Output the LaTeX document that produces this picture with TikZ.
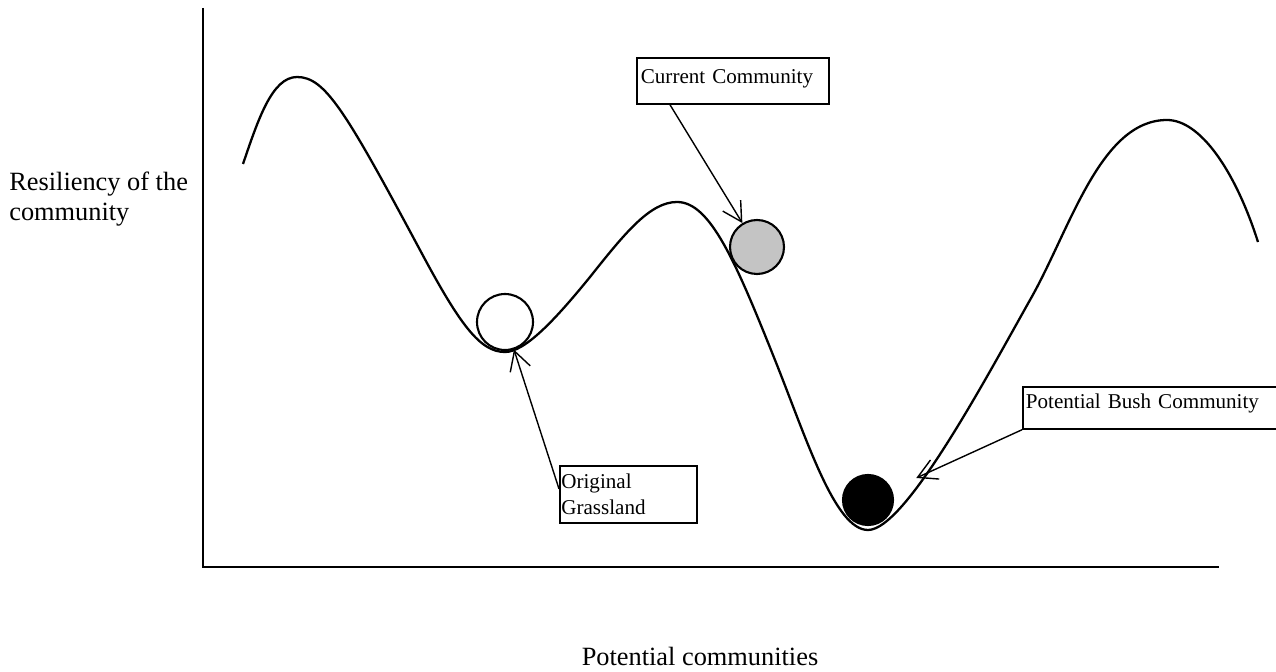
\documentclass[tikz,border=0pt]{standalone}
\usepackage{fontspec}
\setmainfont{Liberation Serif}
\usepackage{tikz}
\usetikzlibrary{arrows.meta, positioning, calc}
\definecolor{ballgray}{RGB}{196,196,196}
\definecolor{inkdark}{RGB}{0,0,0}
\tikzset{
  labelbox/.style={rectangle, draw=inkdark, fill=white, line width=1pt,
    anchor=north west, align=left, inner xsep=0.08cm, inner ysep=0.1cm,
    font=\fontsize{12}{14.4}\selectfont},
  ball/.style={circle, draw=inkdark, line width=1.2pt, inner sep=0pt},
  pointer/.style={-{Straight Barb[length=0.38cm, width=0.42cm]}, line width=0.8pt, color=inkdark},
  axis/.style={line width=1.6pt, color=inkdark},
  curve/.style={line width=1.3pt, color=inkdark},
  axislabel/.style={font=\fontsize{15}{17}\selectfont, inner sep=0pt}
}

\begin{document}
\begin{tikzpicture}[x=0.02cm, y=-0.02cm]
  \path[use as bounding box, clip] (0,0) rectangle (1276,672);
  % axes
  \draw[axis] (203,8) -- (203,567) -- (1219,567);
  \node[axislabel, anchor=north west, align=left] (ylab) at (9,172) {Resiliency of the\\community};
  \node[axislabel, anchor=base] (xlab) at (700,665) {Potential communities};
  % landscape
  \draw[curve] (243,164) .. controls (258,120) and (272,77) .. (297,77)
    .. controls (325,77) and (345,110) .. (420,250)
    .. controls (460,325) and (480,352) .. (505,352)
    .. controls (525,352) and (555,320) .. (590,277)
    .. controls (625,233) and (650,202) .. (677,202)
    .. controls (710,202) and (735,260) .. (775,360)
    .. controls (807,440) and (835,530) .. (868,530)
    .. controls (905,530) and (985,380) .. (1030,300)
    .. controls (1070,230) and (1100,120) .. (1167,120)
    .. controls (1200,120) and (1235,170) .. (1258,242);
  \node[ball, minimum size=1.12cm, fill=white] (ballgrass) at (505,322) {};
  \node[ball, minimum size=1.08cm, fill=ballgray] (ballcur) at (757,247) {};
  \node[ball, minimum size=1.0cm, fill=inkdark] (ballbush) at (868,500) {};
  % labels
  \node[labelbox, text width=3.68cm, text height=0.42cm, text depth=0.3cm] (current) at (636,57) {Current Community};
  \node[labelbox, inner xsep=0.03cm, inner ysep=0.14cm, text width=2.68cm, minimum height=1.14cm] (grass) at (559,465) {Original\\Grassland};
  \node[labelbox, inner xsep=0.06cm, text width=5.8cm, text height=0.34cm, text depth=0.3cm] (bush) at (1022,386) {Potential Bush Community};
  \draw[pointer] ([xshift=0.68cm]current.south west) -- (ballcur);
  \draw[pointer] ([yshift=0.11cm]grass.west) -- (ballgrass);
  \draw[pointer, shorten >=0.54cm] (bush.south west) -- (ballbush);
\end{tikzpicture}
\end{document}
